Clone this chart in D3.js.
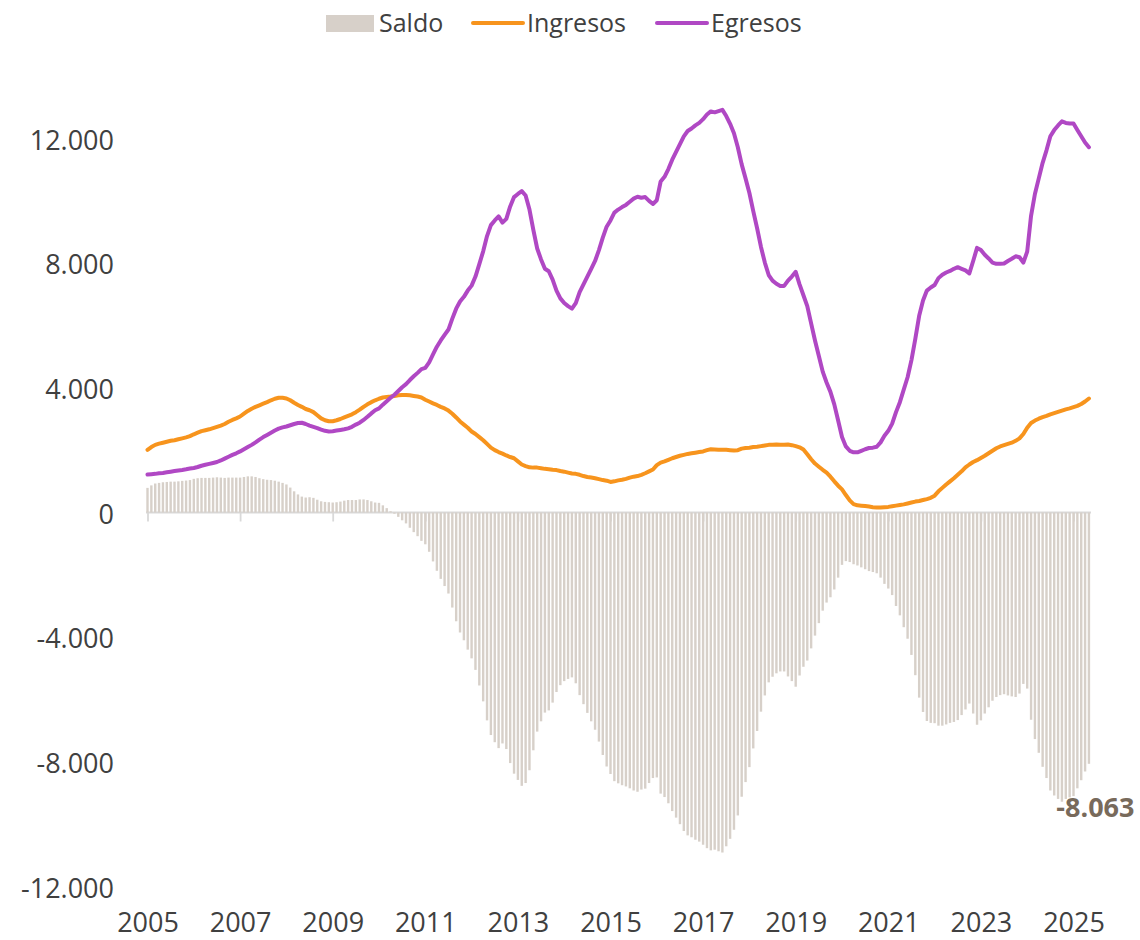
<!DOCTYPE html>
<html>
<head>
<meta charset="utf-8">
<script src="https://cdnjs.cloudflare.com/ajax/libs/d3/7.8.5/d3.min.js"></script>
<style>
  body { margin: 0; background: #fff; }
  #chart text { font-family: "Open Sans", "Noto Sans", sans-serif; fill: #404040; }
</style>
</head>
<body>
<div id="chart"></div>
<script>
(function(){
  // monthly data, Jan 2005 - May 2025
  const firstYear = 2005;

  const ingresos = [
    2010, 2100, 2170, 2210, 2240, 2270, 2300, 2320, 2350, 2380, 2410, 2450,
    2510, 2560, 2610, 2640, 2670, 2710, 2750, 2790, 2840, 2910, 2970, 3020,
    3080, 3170, 3260, 3330, 3390, 3440, 3490, 3540, 3600, 3650, 3680, 3680,
    3660, 3600, 3520, 3450, 3390, 3320, 3280, 3220, 3120, 3020, 2960, 2930,
    2930, 2960, 3000, 3050, 3100, 3150, 3220, 3300, 3390, 3470, 3540, 3600,
    3650, 3690, 3710, 3720, 3740, 3760, 3770, 3770, 3760, 3740, 3720, 3690,
    3620, 3560, 3500, 3450, 3390, 3340, 3270, 3170, 3050, 2920, 2820, 2720,
    2600, 2520, 2420, 2320, 2200, 2080, 2000, 1940, 1890, 1830, 1780, 1740,
    1640, 1540, 1490, 1450, 1440, 1440, 1420, 1400, 1390, 1370, 1360, 1330,
    1310, 1280, 1250, 1240, 1210, 1170, 1140, 1120, 1100, 1070, 1040, 1020,
    980, 1000, 1030, 1050, 1080, 1120, 1150, 1170, 1210, 1260, 1320, 1380,
    1520, 1600, 1640, 1690, 1740, 1780, 1820, 1850, 1880, 1900, 1920, 1940,
    1960, 2000, 2030, 2020, 2010, 2010, 2010, 2000, 1990, 2000, 2050, 2070,
    2080, 2100, 2110, 2130, 2150, 2170, 2170, 2180, 2170, 2170, 2180, 2160,
    2130, 2090, 2020, 1870, 1710, 1570, 1470, 1370, 1280, 1150, 1000, 860,
    740, 560, 390, 270, 230, 220, 210, 190, 170, 160, 160, 170,
    180, 200, 220, 240, 260, 290, 320, 350, 370, 400, 430, 470,
    540, 680, 790, 900, 1000, 1100, 1210, 1320, 1450, 1540, 1620, 1680,
    1750, 1820, 1900, 1980, 2060, 2120, 2160, 2200, 2240, 2300, 2380, 2520,
    2720, 2870, 2950, 3010, 3060, 3100, 3150, 3190, 3230, 3270, 3310, 3340,
    3380, 3420, 3480, 3560, 3657
  ];

  const egresos = [
    1220, 1230, 1240, 1260, 1270, 1290, 1310, 1330, 1350, 1365, 1385, 1410,
    1430, 1460, 1500, 1530, 1560, 1590, 1620, 1670, 1730, 1790, 1850, 1900,
    1960, 2030, 2100, 2170, 2250, 2340, 2420, 2490, 2560, 2630, 2690, 2730,
    2760, 2800, 2840, 2870, 2880, 2840, 2790, 2750, 2710, 2660, 2620, 2600,
    2610, 2630, 2650, 2670, 2700, 2750, 2820, 2880, 2970, 3070, 3180, 3280,
    3340, 3460, 3570, 3680, 3780, 3900, 4020, 4120, 4250, 4370, 4480, 4600,
    4640, 4820, 5070, 5320, 5520, 5700, 5870, 6220, 6540, 6770, 6920, 7120,
    7280, 7570, 7970, 8380, 8870, 9220, 9370, 9500, 9300, 9420, 9820, 10120,
    10220, 10310, 10170, 9720, 9070, 8470, 8120, 7820, 7740, 7470, 7120, 6870,
    6720, 6620, 6540, 6720, 7070, 7320, 7570, 7820, 8070, 8420, 8820, 9170,
    9370, 9620, 9720, 9800, 9870, 9970, 10070, 10130, 10100, 10120, 10000, 9900,
    10020, 10620, 10770, 11020, 11320, 11570, 11820, 12070, 12240, 12320, 12420, 12500,
    12620, 12770, 12870, 12840, 12880, 12920, 12720, 12470, 12170, 11720, 11170, 10720,
    10250, 9670, 9120, 8520, 8020, 7620, 7440, 7340, 7270, 7270, 7440, 7570,
    7720, 7320, 6970, 6620, 6070, 5520, 5020, 4520, 4170, 3870, 3470, 2950,
    2420, 2120, 1980, 1930, 1930, 1980, 2030, 2070, 2080, 2110, 2250, 2460,
    2620, 2850, 3220, 3540, 3940, 4340, 4890, 5570, 6310, 6800, 7120, 7220,
    7300, 7520, 7630, 7700, 7750, 7820, 7870, 7820, 7770, 7670, 8070, 8490,
    8420, 8270, 8150, 8020, 7980, 7980, 7990, 8070, 8140, 8220, 8190, 8020,
    8370, 9520, 10220, 10720, 11220, 11620, 12070, 12270, 12420, 12550, 12500, 12480,
    12480, 12270, 12070, 11870, 11720
  ];

  const saldo = [
    790, 870, 930, 950, 970, 980, 990, 990, 1000, 1015, 1025, 1040,
    1080, 1100, 1110, 1110, 1110, 1120, 1130, 1120, 1110, 1120, 1120, 1120,
    1120, 1140, 1160, 1160, 1140, 1100, 1070, 1050, 1040, 1020, 990, 950,
    900, 800, 680, 580, 510, 480, 490, 470, 410, 360, 340, 330,
    320, 330, 350, 380, 400, 400, 400, 420, 420, 400, 360, 320,
    310, 230, 140, 40, -40, -140, -250, -350, -490, -630, -760, -910,
    -1020, -1260, -1570, -1870, -2130, -2360, -2600, -3050, -3490, -3850, -4100, -4400,
    -4680, -5050, -5550, -6060, -6670, -7140, -7370, -7560, -7410, -7590, -8040, -8380,
    -8580, -8770, -8680, -8270, -7630, -7030, -6700, -6420, -6350, -6100, -5760, -5540,
    -5410, -5340, -5290, -5480, -5860, -6150, -6430, -6700, -6970, -7350, -7780, -8150,
    -8390, -8620, -8690, -8750, -8790, -8850, -8920, -8960, -8890, -8860, -8680, -8520,
    -8500, -9020, -9130, -9330, -9580, -9790, -10000, -10220, -10360, -10420, -10500, -10560,
    -10660, -10770, -10840, -10820, -10870, -10910, -10710, -10470, -10180, -9720, -9120, -8650,
    -8170, -7570, -7010, -6390, -5870, -5450, -5270, -5160, -5100, -5100, -5260, -5410,
    -5590, -5230, -4950, -4750, -4360, -3950, -3550, -3150, -2890, -2720, -2470, -2090,
    -1680, -1560, -1590, -1660, -1700, -1760, -1820, -1880, -1910, -1950, -2090, -2290,
    -2440, -2650, -3000, -3300, -3680, -4050, -4570, -5220, -5940, -6400, -6690, -6750,
    -6760, -6840, -6840, -6800, -6750, -6720, -6660, -6500, -6320, -6130, -6450, -6810,
    -6670, -6450, -6250, -6040, -5920, -5860, -5830, -5870, -5900, -5920, -5810, -5500,
    -5650, -6650, -7270, -7710, -8160, -8520, -8920, -9080, -9190, -9280, -9190, -9140,
    -9100, -8850, -8590, -8310, -8063
  ];

  const yTicks = [-12000, -8000, -4000, 0, 4000, 8000, 12000];
  const xTickYears = [2005, 2007, 2009, 2011, 2013, 2015, 2017, 2019, 2021, 2023, 2025];

  const legendItems = [
    { name: "Saldo", type: "bar" },
    { name: "Ingresos", type: "line" },
    { name: "Egresos", type: "line" }
  ];

  const colors = { Saldo: "#d7d0c9", Ingresos: "#f7941d", Egresos: "#b048c4" };

  const width = 1140;
  const height = 940;

  const locale = d3.formatLocale({
    decimal: ",", thousands: ".", grouping: [3], currency: ["$", ""], minus: "-"
  });
  const fmt = locale.format(",.0f");

  const x = d3.scaleLinear().domain([0, 240]).range([147.5, 1073.5]);
  const y = d3.scaleLinear().domain([-12000, 12000]).range([886.5, 138.5]);

  const svg = d3.select("#chart")
    .append("svg")
    .attr("width", width)
    .attr("height", height);

  // y labels
  const yAxis = svg.append("g")
    .attr("transform", "translate(114,0)")
    .call(d3.axisLeft(y).tickValues(yTicks).tickFormat(fmt).tickSize(0).tickPadding(0));
  yAxis.select(".domain").remove();
  yAxis.selectAll("text")
    .attr("dy", "0.39em")
    .style("font-size", "27px");

  // x labels at the bottom
  const xLabels = svg.append("g")
    .attr("transform", "translate(0,932)")
    .call(d3.axisBottom(x)
      .tickValues(xTickYears.map(yr => (yr - firstYear) * 12))
      .tickFormat(i => firstYear + i / 12)
      .tickSize(0));
  xLabels.select(".domain").remove();
  xLabels.selectAll("text")
    .attr("y", 0)
    .attr("dy", null)
    .style("font-size", "27px");

  // zero line with ticks
  const zeroAxis = svg.append("g")
    .attr("transform", "translate(0," + y(0) + ")")
    .call(d3.axisBottom(x)
      .tickValues(xTickYears.map(yr => (yr - firstYear) * 12))
      .tickFormat("")
      .tickSize(9)
      .tickSizeOuter(0));
  zeroAxis.select(".domain")
    .attr("d", "M146,0H1091")
    .attr("stroke", "#d9d9d9")
    .attr("stroke-width", 1.8);
  zeroAxis.selectAll(".tick line")
    .attr("stroke", "#d9d9d9")
    .attr("stroke-width", 1.8);

  // bars
  svg.append("g")
    .selectAll("rect")
    .data(saldo)
    .join("rect")
    .attr("x", (d, i) => x(i) - 1.2)
    .attr("width", 2.4)
    .attr("y", d => Math.min(y(d), y(0)))
    .attr("height", d => Math.abs(y(d) - y(0)))
    .attr("fill", colors.Saldo);

  // lines
  const line = d3.line()
    .x((d, i) => x(i))
    .y(d => y(d));

  svg.append("path")
    .datum(ingresos)
    .attr("d", line)
    .attr("fill", "none")
    .attr("stroke", colors.Ingresos)
    .attr("stroke-width", 4)
    .attr("stroke-linejoin", "round")
    .attr("stroke-linecap", "round");

  svg.append("path")
    .datum(egresos)
    .attr("d", line)
    .attr("fill", "none")
    .attr("stroke", colors.Egresos)
    .attr("stroke-width", 4)
    .attr("stroke-linejoin", "round")
    .attr("stroke-linecap", "round");

  // last value label
  const last = saldo.length - 1;
  svg.append("text")
    .attr("x", x(last) + 6.5)
    .attr("y", y(saldo[last]) + 53)
    .attr("text-anchor", "middle")
    .style("font-size", "27px")
    .style("font-weight", "bold")
    .style("fill", "#786a5b")
    .text(fmt(saldo[last]));

  // legend
  const legendX = [326, 473, 657];
  const legend = svg.append("g");
  legendItems.forEach((item, k) => {
    const g = legend.append("g").attr("transform", "translate(" + legendX[k] + ",0)");
    if (item.type === "bar") {
      g.append("rect")
        .attr("x", 0).attr("y", 15)
        .attr("width", 48).attr("height", 17)
        .attr("fill", colors[item.name]);
    } else {
      g.append("line")
        .attr("x1", 0).attr("x2", 50)
        .attr("y1", 23).attr("y2", 23)
        .attr("stroke", colors[item.name])
        .attr("stroke-width", 4)
        .attr("stroke-linecap", "round");
    }
    g.append("text")
      .attr("x", item.type === "bar" ? 53 : 54)
      .attr("y", 32)
      .style("font-size", "25px")
      .text(item.name);
  });
})();
</script>
</body>
</html>
